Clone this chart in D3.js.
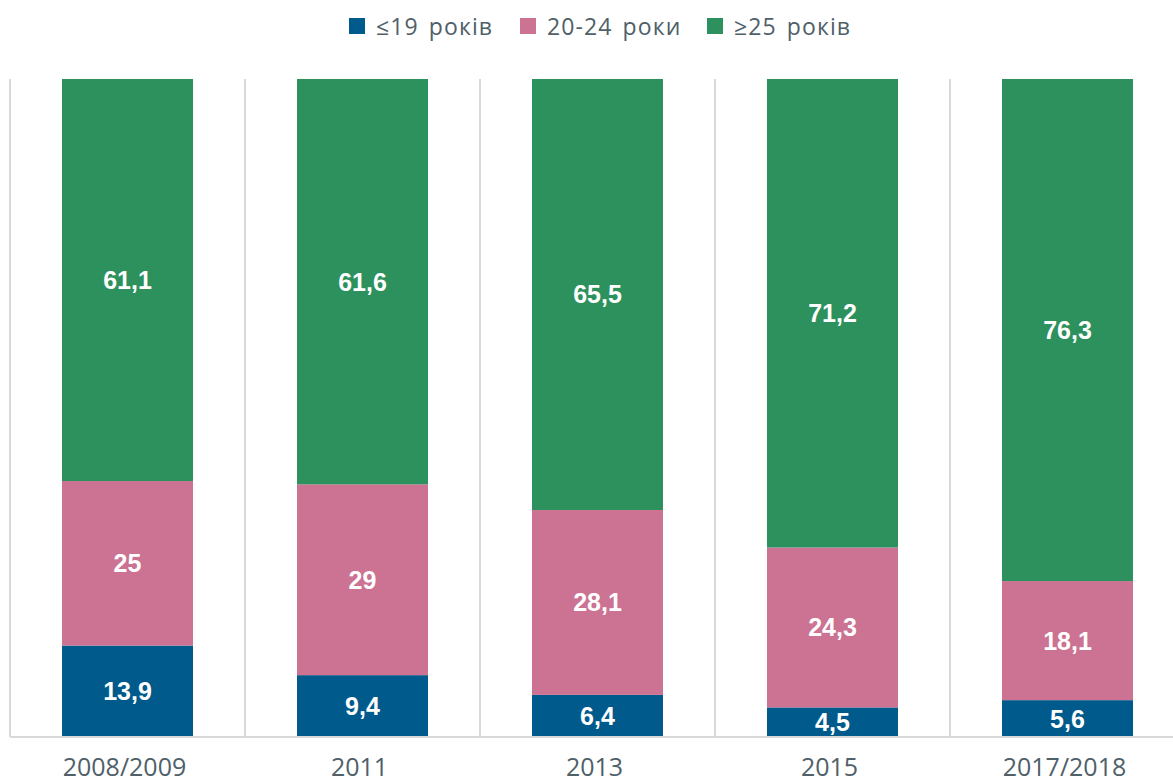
<!DOCTYPE html>
<html><head><meta charset="utf-8">
<script src="https://cdn.jsdelivr.net/npm/d3@7"></script>
<style>body{margin:0;background:#fff;}svg{display:block;}</style>
</head><body><svg id="c" width="1173" height="778"></svg>
<script>
const categories = ["2008/2009","2011","2013","2015","2017/2018"];
const seriesNames = ["≤19 років","20-24 роки","≥25 років"];
const under19 = [13.9, 9.4, 6.4, 4.5, 5.6];
const age20to24 = [25, 29, 28.1, 24.3, 18.1];
const over25 = [61.1, 61.6, 65.5, 71.2, 76.3];
const colors = ["#005a8c","#cc7292","#2d915d"];

(function(){
const svg = d3.select("#c");
const leftX = 10, bandW = 235, topY = 79, bottomY = 737;
const x = d3.scaleBand().domain(categories).range([leftX, leftX + bandW*categories.length]).paddingInner(0).paddingOuter(0);
const y = d3.scaleLinear().domain([0,100]).range([bottomY, topY]);
const barW = 131;

const series = [under19, age20to24, over25];
const rows = categories.map((c,i)=>({cat:c, s0:under19[i], s1:age20to24[i], s2:over25[i]}));
const stack = d3.stack().keys(["s0","s1","s2"])(rows);

// vertical gridlines at band boundaries
const bounds = categories.map(c=>x(c)).concat([x.range()[1]]);
svg.append("g").selectAll("line").data(bounds).join("line")
  .attr("x1",d=>d).attr("x2",d=>d).attr("y1",topY).attr("y2",bottomY)
  .attr("stroke","#d9d9d9").attr("stroke-width",2);

const g = svg.append("g");
stack.forEach((layer,k)=>{
  g.append("g").selectAll("rect").data(layer).join("rect")
    .attr("x",d=>x(d.data.cat) + (bandW-barW)/2)
    .attr("width",barW)
    .attr("y",d=>y(d[1]))
    .attr("height",d=>y(d[0])-y(d[1]))
    .attr("fill",colors[k]);
  g.append("g").selectAll("text").data(layer).join("text")
    .attr("x",d=>x(d.data.cat) + bandW/2)
    .attr("y",d=>(y(d[0])+y(d[1]))/2)
    .attr("dy","0.36em")
    .attr("text-anchor","middle")
    .attr("fill","#fff")
    .attr("font-family","Liberation Sans, Arial, sans-serif")
    .attr("font-weight","bold")
    .attr("font-size",25)
    .text((d,i)=>String(series[k][i]).replace(".",","));
});

// x axis
const xa = svg.append("g").attr("transform",`translate(0,${bottomY})`)
  .call(d3.axisBottom(x).tickSize(0).tickPadding(21));
xa.select(".domain").attr("stroke","#d9d9d9").attr("stroke-width",2).attr("d",`M${leftX},0H1173`);
xa.selectAll(".tick").attr("transform",d=>`translate(${x(d)+bandW/2-3},0)`);
xa.selectAll("text").attr("font-family","Open Sans, Noto Sans, sans-serif")
  .attr("font-size",25).attr("fill","#4f6069");

// legend
const legX = [349, 520, 707];
const leg = svg.append("g");
seriesNames.forEach((n,i)=>{
  leg.append("rect").attr("x",legX[i]).attr("y",18).attr("width",16).attr("height",16).attr("fill",colors[i]);
  leg.append("text").attr("x",legX[i]+27).attr("y",35)
    .attr("font-family","Open Sans, Noto Sans, sans-serif").attr("font-size",23)
    .attr("letter-spacing","1.1px").attr("word-spacing","3px")
    .attr("fill","#4f6069").text(n);
});
})();
</script></body></html>
